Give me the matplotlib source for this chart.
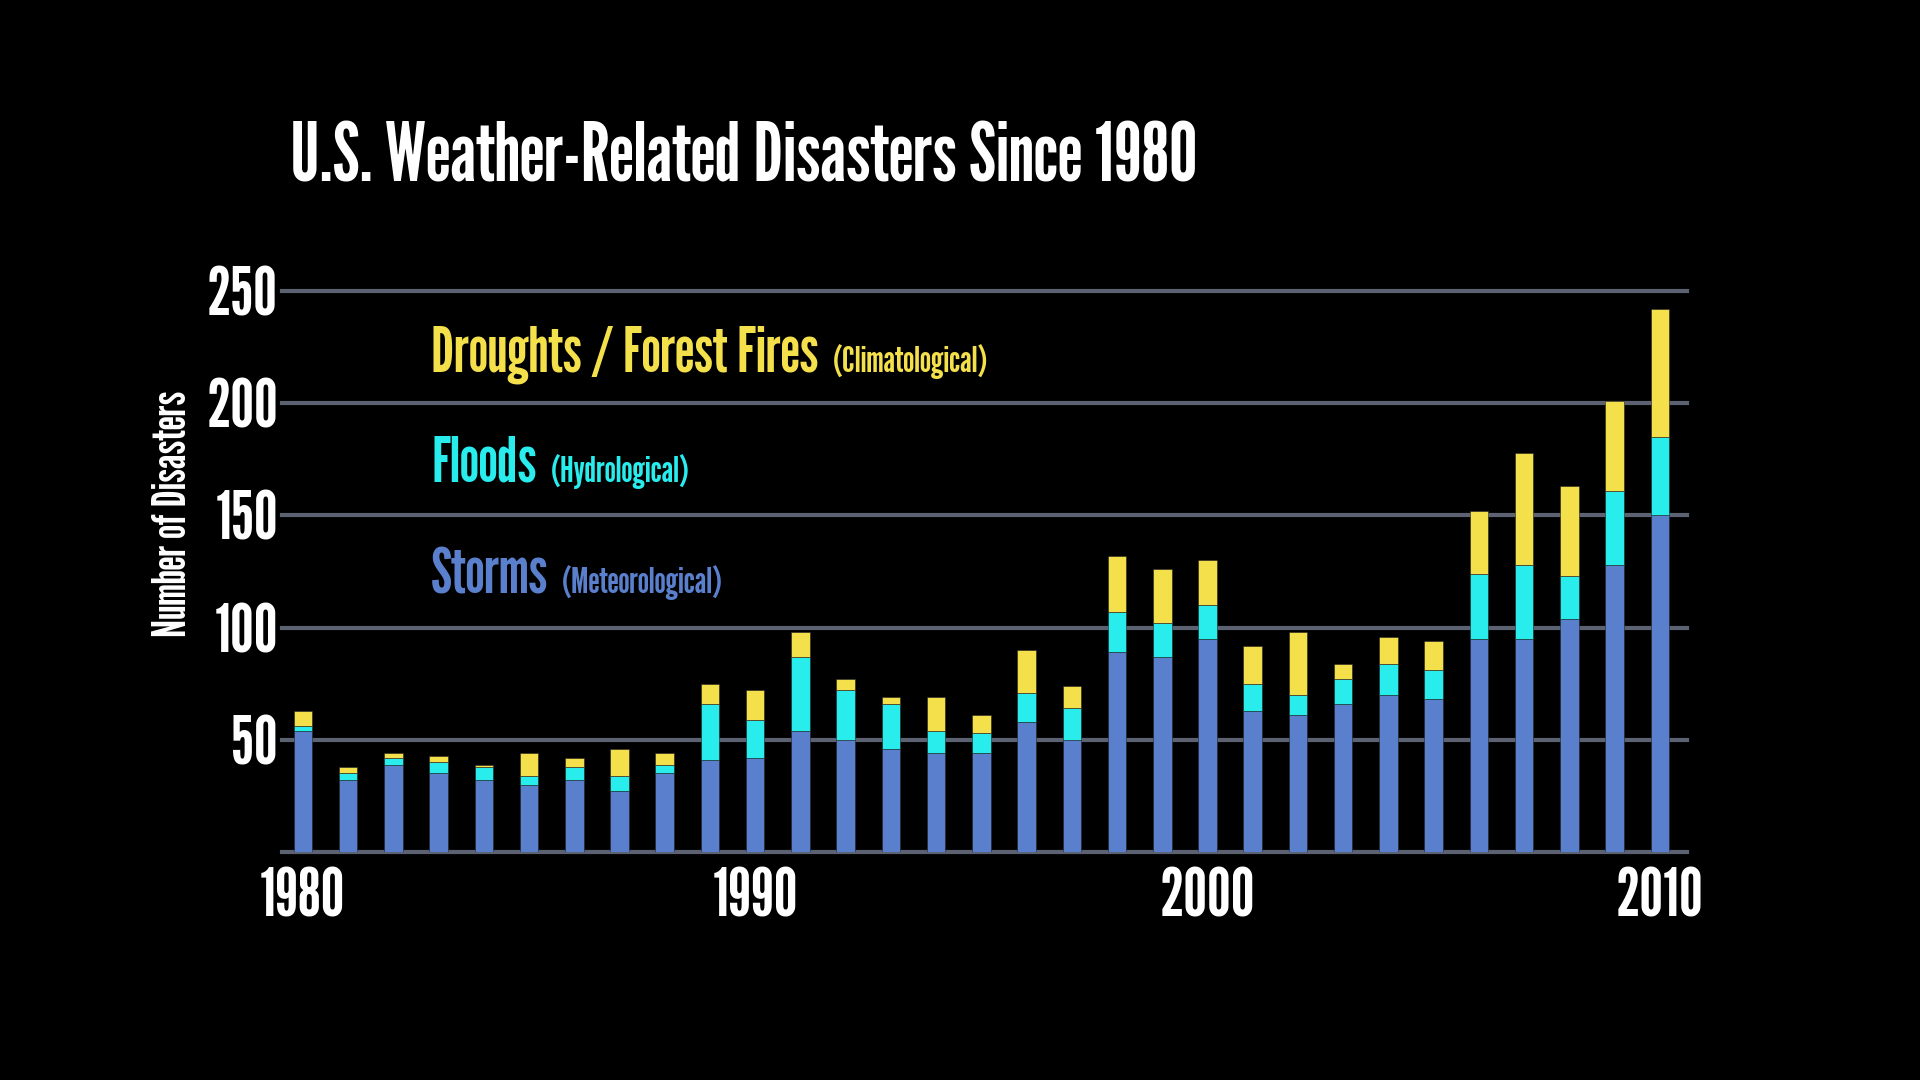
import numpy as np
import matplotlib
matplotlib.use('Agg')
import matplotlib.pyplot as plt

# data (counts per year)
years = list(range(1980, 2011))
storms = [54, 32, 39, 35, 32, 30, 32, 27, 35,
          41, 42, 54, 50, 46, 44, 44, 58, 50,
          89, 87, 95,
          63, 61, 66, 70, 68,
          95, 95, 104, 128, 150]
floods = [2, 3, 3, 5, 6, 4, 6, 7, 4,
          25, 17, 33, 22, 20, 10, 9, 13, 14,
          18, 15, 15,
          12, 9, 11, 14, 13,
          29, 33, 19, 33, 35]
droughts = [7, 3, 2, 3, 1, 10, 4, 12, 5,
            9, 13, 11, 5, 3, 15, 8, 19, 10,
            25, 24, 20,
            17, 28, 7, 12, 13,
            28, 50, 40, 40, 57]
yticks = [50, 100, 150, 200, 250]
xticks = [1980, 1990, 2000, 2010]

c_storm = '#5a80cd'
c_flood = '#29eced'
c_drought = '#f4e04b'
c_grid = '#5d6272'

plt.rcParams['font.family'] = ['League Gothic', 'DejaVu Sans']

fig = plt.figure(figsize=(19.2, 10.8), dpi=100, facecolor='black')
ax = fig.add_axes([0.1469, 0.2111, 0.7317, 0.5194], facecolor='black')

x = np.array(years)
s = np.array(storms)
f = np.array(floods)
d = np.array(droughts)
w = 0.41
for yv in [0] + yticks:
    ax.axhline(yv, color=c_grid, lw=3, zorder=0, clip_on=False)
ax.bar(x, s, w, color=c_storm, zorder=2, edgecolor='#222222', linewidth=0.4)
ax.bar(x, f, w, bottom=s, color=c_flood, zorder=2, edgecolor='#222222', linewidth=0.4)
ax.bar(x, d, w, bottom=s + f, color=c_drought, zorder=2, edgecolor='#222222', linewidth=0.4)

ax.set_xlim(1979.54, 2010.6)
ax.set_ylim(0, 250)
for sp in ax.spines.values():
    sp.set_visible(False)
ax.set_yticks(yticks)
ax.set_xticks(xticks)
ax.tick_params(length=0, colors='white', labelsize=48)
ax.tick_params(axis='y', pad=3)
ax.tick_params(axis='x', pad=11)

fig.text(173 / 1920, 1 - 514 / 1080, 'Number of Disasters', color='white', fontsize=33,
         rotation=90, ha='center', va='center')

fig.text(290 / 1920, 1 - 181 / 1080, 'U.S. Weather-Related Disasters Since 1980',
         color='white', fontsize=58, va='baseline', ha='left')

rend = fig.canvas.get_renderer()
legend_rows = [('Droughts / Forest Fires', '(Climatological)', c_drought, 372),
               ('Floods', '(Hydrological)', c_flood, 482),
               ('Storms', '(Meteorological)', c_storm, 593)]
for main, sub, col, ypx in legend_rows:
    t = fig.text(431 / 1920, 1 - ypx / 1080, main, color=col, fontsize=45,
                 va='baseline', ha='left')
    bb = t.get_window_extent(renderer=rend)
    fig.text((bb.x1 + 14) / 1920, 1 - ypx / 1080, sub, color=col, fontsize=26,
             va='baseline', ha='left')

fig.savefig('out.png', dpi=100, facecolor='black')
